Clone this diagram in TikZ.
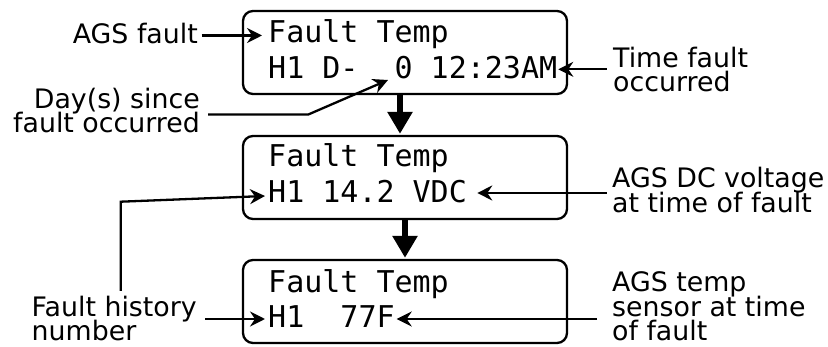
\documentclass[tikz,border=0pt]{standalone}
\usepackage{fontspec}
\setmainfont{DejaVu Sans}
\newfontfamily\lcdfont{DejaVu Sans Mono}
\usetikzlibrary{arrows.meta}
\setlength{\lineskiplimit}{-100pt}
\begin{document}
\begin{tikzpicture}[x=1pt,y=-1pt,
  lcdbox/.style={draw, line width=2.3pt, rounded corners=10pt, minimum width=324pt, minimum height=83pt, inner sep=0pt},
  lcdtext/.style={font=\lcdfont\fontsize{30}{34}\selectfont, anchor=base west, inner sep=0pt},
  lbl/.style={font=\fontsize{26.8}{24.3}\selectfont, inner sep=0pt, text depth=0pt},
  callout/.style={line width=2.3pt, -{Stealth[length=15pt,width=15pt,inset=5pt]}},
  flow/.style={line width=6.5pt, -{Triangle[length=22pt,width=24pt]}}
]
\useasboundingbox (0,0) rectangle (828,347);

% LCD boxes
\node[lcdbox] (b1) at (405,52.5) {};
\node[lcdbox] (b2) at (405,177.5) {};
\node[lcdbox] (b3) at (405,301.5) {};

% LCD texts
\node[lcdtext] (b1l1) at (268,42.5) {Fault Temp};
\node[lcdtext] (b1l2) at (268,79) {H1 D-\ \ 0 12:23AM};
\node[lcdtext] (b2l1) at (268,167) {Fault Temp};
\node[lcdtext] (b2l2) at (268,203) {H1 14.2 VDC};
\node[lcdtext] (b3l1) at (268,292.3) {Fault Temp};
\node[lcdtext] (b3l2) at (268,327.7) {H1\ \ 77F};

% labels (base anchor = baseline of the last line)
\node[lbl, anchor=base east] (lAGS) at (198,44) {AGS fault};
\node[lbl, anchor=base east, align=right] (lDays) at (200,132.8) {Day(s) since\\fault occurred};
\node[lbl, anchor=base west, align=left] (lTime) at (613,91.5) {Time fault\\occurred};
\node[lbl, anchor=base west, align=left] (lVolt) at (612,212.2) {AGS DC voltage\\at time of fault};
\node[lbl, anchor=base west, align=left] (lTemp) at (612,340.5) {AGS temp\\sensor at time\\of fault};
\node[lbl, anchor=base west, align=left] (lHist) at (31.5,340.5) {Fault history\\number};

% connector end points
\coordinate (aAGSs) at (201.5,35.5);
\coordinate (aAGSt) at (262,35.5);
\coordinate (aDayS) at (208,114.5);
\coordinate (aDayB) at (308.3,114.5);
\coordinate (aDayT) at (388,80);
\coordinate (aTimS) at (606.7,69.3);
\coordinate (aTimT) at (558.3,69.3);
\coordinate (aVolS) at (606.7,193);
\coordinate (aVolT) at (477.3,193);
\coordinate (aHisS) at (120.7,291);
\coordinate (aHisB) at (120.7,201.7);
\coordinate (aHisT) at (265,196);
\coordinate (aHs2S) at (205,319);
\coordinate (aHs2T) at (265,319);
\coordinate (aTmpS) at (597,319);
\coordinate (aTmpT) at (396.7,319);

% callouts
\draw[callout] (aAGSs) -- (aAGSt);
\draw[callout] (aDayS) -- (aDayB) -- (aDayT);
\draw[callout] (aTimS) -- (aTimT);
\draw[callout] (aVolS) -- (aVolT);
\draw[callout] (aHisS) -- (aHisB) -- (aHisT);
\draw[callout] (aHs2S) -- (aHs2T);
\draw[callout] (aTmpS) -- (aTmpT);

% flow arrows
\draw[flow, shorten >=1pt] ([xshift=-5pt]b1.south) -- ([xshift=-5pt]b2.north);
\draw[flow, shorten >=1pt] (b2.south) -- (b3.north);
\end{tikzpicture}
\end{document}
